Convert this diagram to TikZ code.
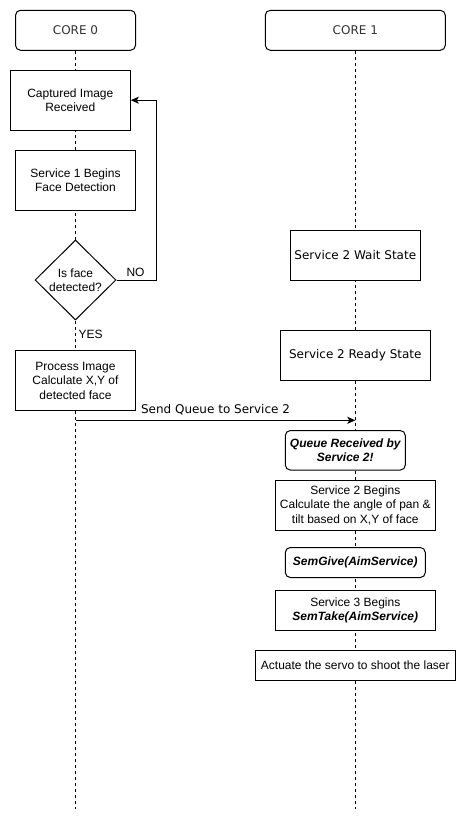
\documentclass[tikz,border=0pt]{standalone}
\usepackage{fontspec}
\setmainfont{Liberation Sans}
\newfontfamily\tahfont{DejaVu Sans}
\usetikzlibrary{shapes.geometric,arrows.meta}
\definecolor{hdrtext}{HTML}{333333}
\begin{document}
\begin{tikzpicture}[x=1pt,y=-1pt,
  every node/.style={font=\fontsize{12}{14.5}\selectfont},
  box/.style={draw,fill=white,line width=1pt,inner sep=0pt,align=center},
  rbox/.style={box,rounded corners=5pt},
  lifeline/.style={line width=1pt,dash pattern=on 3pt off 3pt},
  arr/.style={line width=1pt,-{Stealth[length=8pt,width=7pt,inset=2pt]}},
  tah/.style={font=\tahfont\fontsize{12}{14.5}\selectfont},
  lbl/.style={inner sep=0pt},
]
\useasboundingbox[fill=white] (0,0) rectangle (466,821);
% headers
\node[rbox,tah,text=hdrtext,minimum width=120pt,minimum height=40pt] (core0) at (75.5,30.3) {CORE 0};
\node[rbox,tah,text=hdrtext,minimum width=180pt,minimum height=40pt] (core1) at (355.3,30.3) {CORE 1};
\coordinate (end0) at (75.5,809);
\coordinate (end1) at (355.3,809);
\draw[lifeline] (core0.south) -- (end0);
\draw[lifeline] (core1.south) -- (end1);
% core 0
\node[box,minimum width=120pt,minimum height=60pt] (cap) at (70.3,100.2) {Captured Image\\Received};
\node[box,minimum width=120pt,minimum height=60pt] (s1) at (75.5,180.3) {Service 1 Begins\\Face Detection};
\node[draw,fill=white,line width=1pt,diamond,inner sep=0pt,align=center,minimum width=81pt,minimum height=80pt] (dia) at (75.5,280) {Is face\\detected?};
\node[box,minimum width=120pt,minimum height=60pt] (proc) at (75.5,380.7) {Process Image\\Calculate X,Y of\\detected face};
% core 1
\node[box,tah,minimum width=130pt,minimum height=50pt] (wait) at (355.3,255.2) {Service 2 Wait State};
\node[box,tah,minimum width=150pt,minimum height=50pt] (ready) at (355.3,355.2) {Service 2 Ready State};
\node[rbox,minimum width=120pt,minimum height=39.5pt,font=\fontsize{12}{14.5}\selectfont\bfseries\itshape] (qrec) at (345.3,450.3) {Queue Received by\\Service 2!};
\node[box,minimum width=160pt,minimum height=50pt] (s2b) at (355.3,505) {Service 2 Begins\\Calculate the angle of pan \&\\tilt based on X,Y of face};
\node[rbox,minimum width=140pt,minimum height=30pt,font=\fontsize{12}{14.5}\selectfont\bfseries\itshape] (give) at (355.3,562.5) {SemGive(AimService)};
\node[box,minimum width=160pt,minimum height=40pt] (s3) at (355.3,610.5) {Service 3 Begins\\\textbf{\textit{SemTake(AimService)}}};
\node[box,minimum width=200pt,minimum height=30pt] (act) at (355.3,665.7) {Actuate the servo to shoot the laser};
% NO loop
\draw[arr] (dia.east) -- ++(39.5,0) coordinate (nocorner) |- (cap.east);
\node[lbl] (no) at (135.5,272.5) {NO};
\node[lbl,anchor=west] (yes) at (78.5,334.5) {YES};
% send queue
\coordinate (sq0) at (75.5,420.3);
\coordinate (sq1) at (355.3,420.3);
\draw[arr] (sq0) -- (sq1);
\node[lbl,tah] (sqlbl) at (215.5,410) {Send Queue to Service 2};
\end{tikzpicture}
\end{document}
